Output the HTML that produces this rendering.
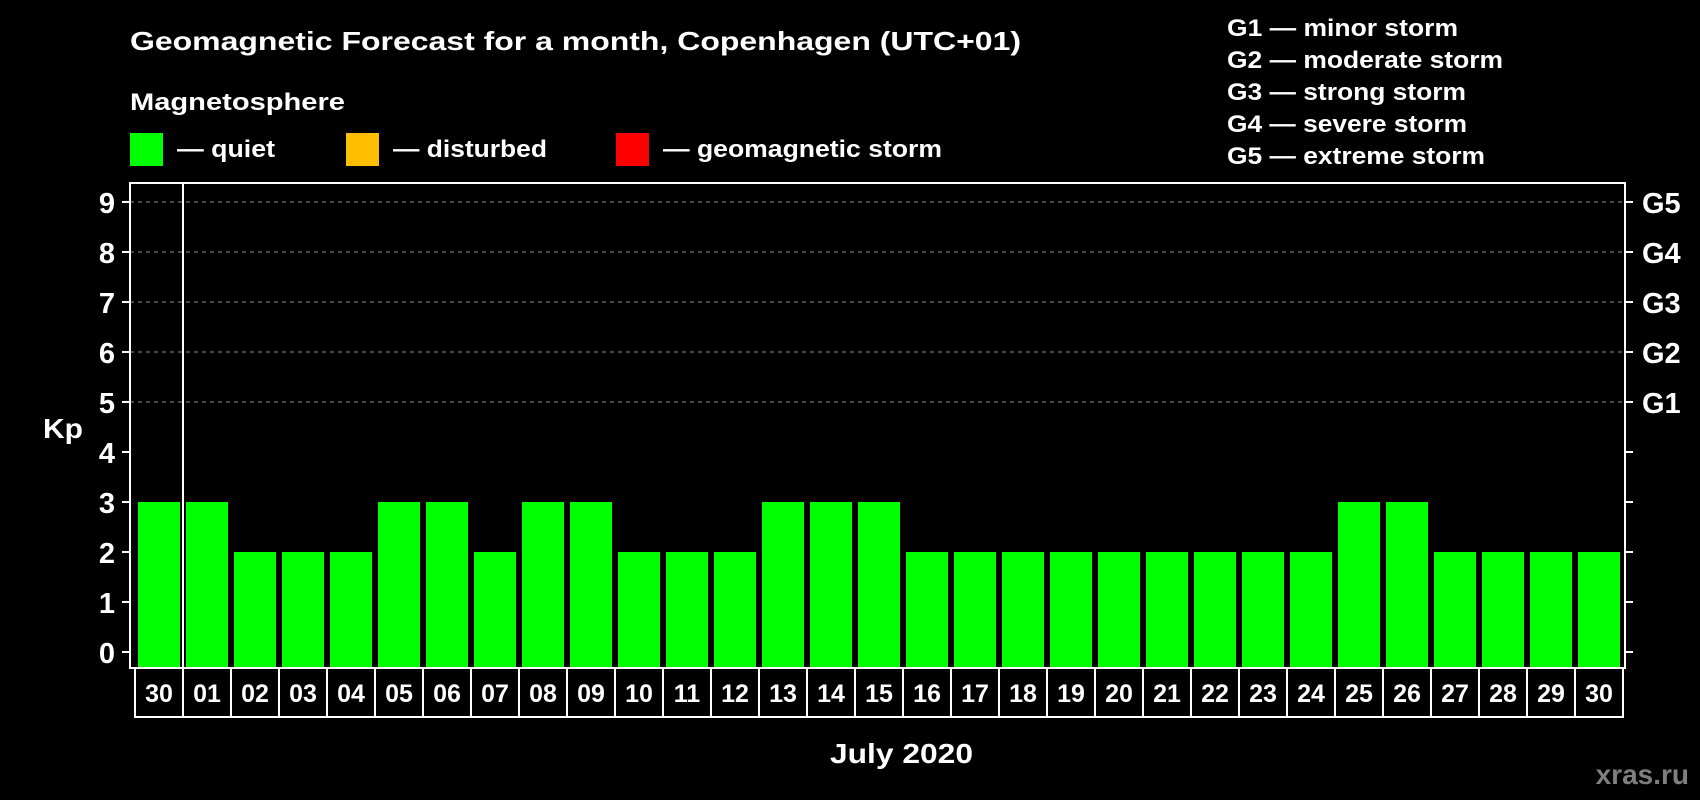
<!DOCTYPE html>
<html><head><meta charset="utf-8"><style>
body{margin:0;background:#000;width:1700px;height:800px;overflow:hidden}
svg{display:block}
text{font-family:"Liberation Sans",Arial,sans-serif;font-weight:bold;fill:#fff}
</style></head><body>
<svg id="chart" width="1700" height="800">
<text x="130" y="50" font-size="26" textLength="891" lengthAdjust="spacingAndGlyphs">Geomagnetic Forecast for a month, Copenhagen (UTC+01)</text>
<text x="130" y="110" font-size="24" textLength="215" lengthAdjust="spacingAndGlyphs">Magnetosphere</text>
<g><rect x="130" y="133" width="33" height="33" fill="#00ff00"/><text x="177" y="157" font-size="24" textLength="98" lengthAdjust="spacingAndGlyphs">— quiet</text></g>
<g><rect x="346" y="133" width="33" height="33" fill="#ffbf00"/><text x="393" y="157" font-size="24" textLength="154" lengthAdjust="spacingAndGlyphs">— disturbed</text></g>
<g><rect x="616" y="133" width="33" height="33" fill="#ff0000"/><text x="663" y="157" font-size="24" textLength="279" lengthAdjust="spacingAndGlyphs">— geomagnetic storm</text></g>
<g>
<text x="1227" y="36" font-size="24" textLength="231" lengthAdjust="spacingAndGlyphs">G1 — minor storm</text>
<text x="1227" y="68" font-size="24" textLength="276" lengthAdjust="spacingAndGlyphs">G2 — moderate storm</text>
<text x="1227" y="100" font-size="24" textLength="239" lengthAdjust="spacingAndGlyphs">G3 — strong storm</text>
<text x="1227" y="132" font-size="24" textLength="240" lengthAdjust="spacingAndGlyphs">G4 — severe storm</text>
<text x="1227" y="164" font-size="24" textLength="258" lengthAdjust="spacingAndGlyphs">G5 — extreme storm</text>
</g>
<text x="43" y="438" font-size="28" textLength="40" lengthAdjust="spacingAndGlyphs">Kp</text>
<text x="830" y="763" font-size="28" textLength="143" lengthAdjust="spacingAndGlyphs">July 2020</text>
<text x="1689" y="784" font-size="28" text-anchor="end" style="fill:#7f7f7f">xras.ru</text>
<g id="grid"></g><g id="bars"></g><g id="axes"></g>
</svg>
<script>
const days=["30","01","02","03","04","05","06","07","08","09","10","11","12","13","14","15","16","17","18","19","20","21","22","23","24","25","26","27","28","29","30"];
const kp=[3,3,2,2,2,3,3,2,3,3,2,2,2,3,3,3,2,2,2,2,2,2,2,2,2,3,3,2,2,2,2];
const yTicks=[0,1,2,3,4,5,6,7,8,9];
const gLevels=[5,6,7,8,9];
const gLabels=["G1","G2","G3","G4","G5"];
const NS="http://www.w3.org/2000/svg";
const L=130,R=1625,T=183,B=668,y0=652,unit=50,x0=138,step=48,bw=42;
const y=v=>y0-v*unit, x=i=>x0+i*step;
function mk(t,a,p){const e=document.createElementNS(NS,t);for(const k in a)e.setAttribute(k,a[k]);p.appendChild(e);return e;}
const grid=document.getElementById('grid'),bars=document.getElementById('bars'),axes=document.getElementById('axes');
gLevels.forEach((g,i)=>{
 const ln=mk('line',{x1:L,x2:R,y1:y(g),y2:y(g),stroke:'#8a8a8a','stroke-width':1,'stroke-dasharray':'4,4'},grid);
 
 
 const t=mk('text',{x:1642,y:y(g)+11,'font-size':29},axes);t.textContent=gLabels[i];
 
 
});
kp.forEach((v,i)=>{
 const r=mk('rect',{x:x(i),y:y(v),width:bw,height:B-y(v),fill:'#00ff00'},bars);
 
 
});
mk('rect',{x:L,y:T,width:R-L,height:B-T,fill:'none',stroke:'#fff','stroke-width':2},axes);
mk('line',{x1:x(1)-3,x2:x(1)-3,y1:T,y2:B,stroke:'#fff','stroke-width':2},axes);
yTicks.forEach(v=>{
 mk('line',{x1:122,x2:L,y1:y(v),y2:y(v),stroke:'#fff','stroke-width':2},axes);
 mk('line',{x1:R,x2:R+8,y1:y(v),y2:y(v),stroke:'#fff','stroke-width':2},axes);
 const t=mk('text',{x:115,y:y(v)+11,'font-size':29,'text-anchor':'end'},axes);t.textContent=v;
 
 
});
days.forEach((d,i)=>{
 const bx=x(i)-3;
 const r=mk('rect',{x:bx,y:B,width:step,height:49,fill:'none',stroke:'#fff','stroke-width':2},axes);
 
 
 const t=mk('text',{x:bx+step/2,y:B+34,'font-size':25,'text-anchor':'middle'},axes);t.textContent=d;
 
 
});
</script>
</body></html>
